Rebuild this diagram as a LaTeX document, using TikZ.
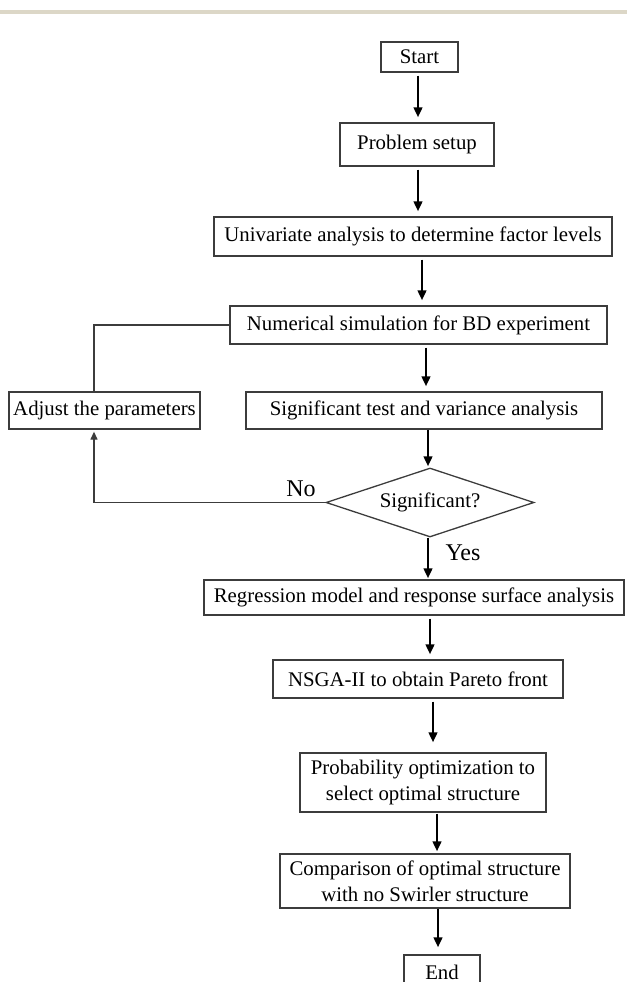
\documentclass[tikz,border=0pt]{standalone}
\usepackage{fontspec}
\setmainfont{Liberation Serif}
\usetikzlibrary{shapes.geometric,arrows.meta}
\definecolor{barbeige}{HTML}{DCD7C7}
\definecolor{edge}{HTML}{3C3C3C}
\begin{document}
\begin{tikzpicture}[x=1pt,y=-1pt,
  txt/.style={font=\fontsize{20.8}{26}\selectfont, text=black},
  lbl/.style={font=\fontsize{24}{28}\selectfont, text=black},
  box/.style={txt, draw=edge, line width=1.3pt, inner sep=0pt, align=center},
  decision/.style={txt, diamond, draw=edge, line width=1.3pt, inner sep=0pt, aspect=3},
  arr/.style={line width=2.5pt, -{Triangle[length=10pt,width=8.5pt]}, shorten <=3pt, shorten >=5pt},
  fb/.style={draw=edge, line width=1.2pt}]

\useasboundingbox (0,0) rectangle (627,982);
\fill[barbeige] (0,10) rectangle (627,14.5);

\node[box, minimum width=77, minimum height=30] (start) at (419.5,57) {Start};
\node[box, minimum width=154, minimum height=43] (setup) at (417,144.5) {Problem setup};
\node[box, minimum width=398, minimum height=39] (univ) at (413,236.5) {Univariate analysis to determine factor levels};
\node[box, minimum width=377, minimum height=38] (num) at (418.5,325) {Numerical simulation for BD experiment};
\node[box, minimum width=356, minimum height=37] (sig) at (424,410.5) {Significant test and variance analysis};
\node[box, minimum width=191, minimum height=37] (adj) at (104.5,410.5) {Adjust the parameters};
\node[decision, minimum width=208, minimum height=69] (dec) at (430,502.5) {Significant?};
\node[lbl] (no) at (301,489) {No};
\node[lbl] (yes) at (463,553) {Yes};
\node[box, minimum width=420, minimum height=35] (reg) at (414,597.5) {Regression model and response surface analysis};
\node[box, minimum width=290, minimum height=38] (nsga) at (418,679) {NSGA-II to obtain Pareto front};
\node[box, minimum width=246, minimum height=59] (prob) at (423,782.5) {Probability optimization to\\select optimal structure};
\node[box, minimum width=290, minimum height=54] (comp) at (425,881) {Comparison of optimal structure\\with no Swirler structure};
\node[box, minimum width=76, minimum height=34] (end) at (442,972) {End};

\draw[arr] ([xshift=-1.5pt]start.south) -- ([xshift=-1.5pt]start.south |- setup.north);
\draw[arr] ([xshift=1pt]setup.south) -- ([xshift=1pt]setup.south |- univ.north);
\draw[arr] ([xshift=9pt]univ.south) -- ([xshift=9pt]univ.south |- num.north);
\draw[arr] ([xshift=7.5pt]num.south) -- ([xshift=7.5pt]num.south |- sig.north);
\draw[arr, shorten <=0pt, shorten >=1pt] ([xshift=4pt]sig.south) -- ([xshift=4pt]sig.south |- dec.north);
\draw[arr, shorten <=0pt, shorten >=1pt] ([xshift=-2pt]dec.south) -- ([xshift=-2pt]dec.south |- reg.north);
\draw[arr] ([xshift=16pt]reg.south) -- ([xshift=16pt]reg.south |- nsga.north);
\draw[arr, shorten >=10pt] ([xshift=15pt]nsga.south) -- ([xshift=15pt]nsga.south |- prob.north);
\draw[arr, shorten <=1pt, shorten >=2pt] ([xshift=14pt]prob.south) -- ([xshift=14pt]prob.south |- comp.north);
\draw[arr, shorten <=0pt, shorten >=7pt] ([xshift=13pt]comp.south) -- ([xshift=13pt]comp.south |- end.north);

\draw[fb, -{Triangle[length=8pt,width=7pt]}, shorten >=2pt] (dec.west) -| ([xshift=-10.5pt]adj.south);
\draw[fb] ([xshift=-10.5pt]adj.north) |- (num.west);
\end{tikzpicture}
\end{document}
